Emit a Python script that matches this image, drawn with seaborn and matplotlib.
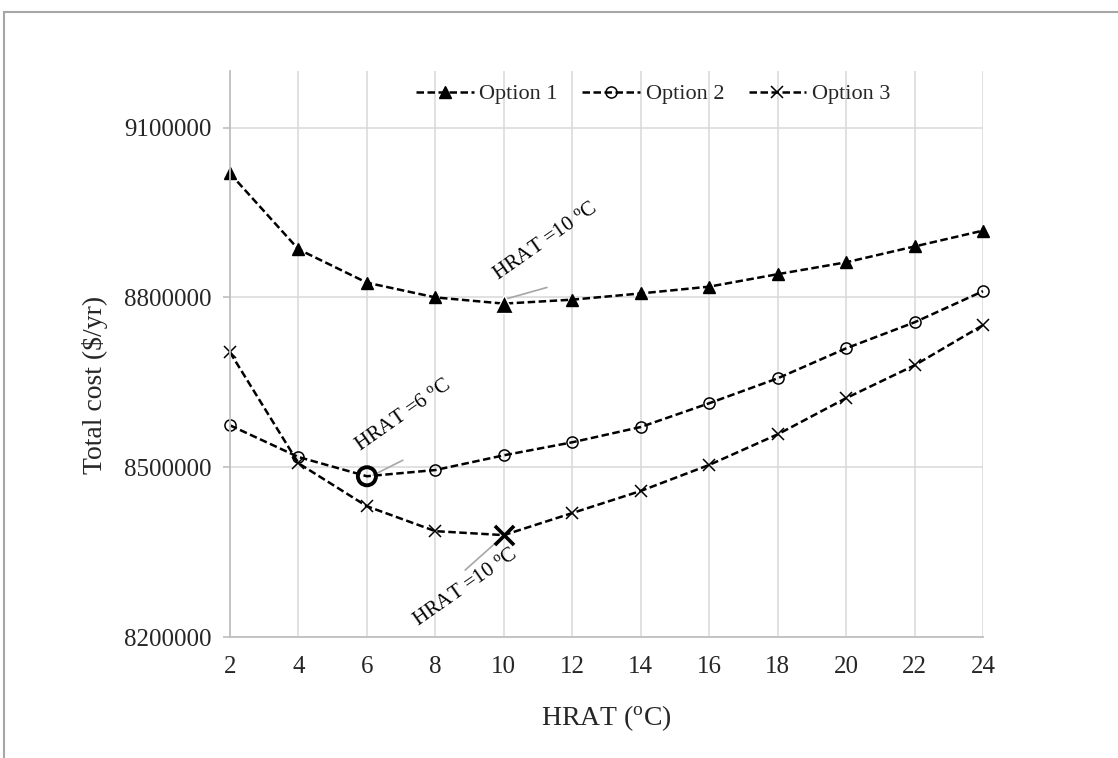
import matplotlib
matplotlib.use("Agg")
import matplotlib.pyplot as plt
from matplotlib.patches import Rectangle
import seaborn as sns
import pandas as pd

# ---- data ----
hrat = [2, 4, 6, 8, 10, 12, 14, 16, 18, 20, 22, 24]
option1 = [9019000, 8885000, 8826000, 8800000, 8789000, 8796000,
           8807000, 8819000, 8841000, 8862000, 8890000, 8918000]
option2 = [8574000, 8518000, 8484000, 8495000, 8521000, 8544000,
           8571000, 8613000, 8657000, 8710000, 8756000, 8811000]
option3 = [8703000, 8507000, 8431000, 8387000, 8380000, 8419000,
           8458000, 8504000, 8558000, 8622000, 8680000, 8751000]
series_names = ["Option 1", "Option 2", "Option 3"]
optimum_hrat = [10, 6, 10]
annotation_texts = ["HRAT =10 $^{\\mathrm{o}}$C", "HRAT =6 $^{\\mathrm{o}}$C", "HRAT =10 $^{\\mathrm{o}}$C"]
y_ticks = [8200000, 8500000, 8800000, 9100000]

sns.set_style("white")
plt.rcParams["font.family"] = ["Liberation Serif", "DejaVu Serif"]
plt.rcParams["mathtext.fontset"] = "custom"
plt.rcParams["mathtext.rm"] = "Liberation Serif"
plt.rcParams["mathtext.it"] = "Liberation Serif:italic"

fig = plt.figure(figsize=(11.18, 7.58), dpi=100)
ax = fig.add_axes([230 / 1118, 1 - 637 / 758, 753 / 1118, 566 / 758])

df = pd.DataFrame({"HRAT": hrat, "Option 1": option1,
                   "Option 2": option2, "Option 3": option3})

styles = {
    "Option 1": dict(marker="^", markersize=9, markerfacecolor="black",
                     markeredgecolor="black", markeredgewidth=1),
    "Option 2": dict(marker="o", markersize=8, markerfacecolor="none",
                     markeredgecolor="black", markeredgewidth=1.1),
    "Option 3": dict(marker="x", markersize=8, markeredgecolor="black",
                     markeredgewidth=1.1),
}
big = {
    "Option 1": dict(marker="^", s=170, color="black", linewidth=1),
    "Option 2": dict(marker="o", s=170, facecolor="none", edgecolor="black", linewidth=2.8),
    "Option 3": dict(marker="x", s=190, color="black", linewidth=2.6),
}

for name, xopt in zip(series_names, optimum_hrat):
    keep = [i for i, h in enumerate(hrat) if h != xopt]
    sns.lineplot(data=df, x="HRAT", y=name, ax=ax, color="black",
                 linestyle=(0, (3, 1.4)), linewidth=1.8, label=name,
                 markevery=keep, clip_on=False, **styles[name])
    sel = df[df["HRAT"] == xopt]
    sns.scatterplot(x=sel["HRAT"], y=sel[name], ax=ax, legend=False,
                    zorder=5, clip_on=False, **big[name])

# annotations (text centre, leader start, leader end)
ann_pos = [((11.23, 8899000), (11.26, 8817600), (10.12, 8798200)),
           ((7.05, 8592000), (7.05, 8512300), (6.18, 8485900)),
           ((8.89, 8288000), (8.87, 8318200), (9.95, 8376500))]
for txt, (tpos, l0, l1) in zip(annotation_texts, ann_pos):
    ax.annotate("", xy=l1, xytext=l0,
                arrowprops=dict(arrowstyle="-", color="#a6a6a6", lw=1.2,
                                shrinkA=0, shrinkB=0))
    ax.text(tpos[0], tpos[1], txt, rotation=35, ha="center", va="center",
            rotation_mode="anchor", fontsize=15, color="black")

ax.set_xlim(2, 24)
ax.set_ylim(8200000, 9200000)
ax.set_xticks(hrat)
ax.set_xticklabels([str(v) for v in hrat])
ax.set_yticks(y_ticks)
ax.set_yticklabels([str(v) for v in y_ticks])
ax.grid(True, color="#d9d9d9", linewidth=1.1)
ax.set_axisbelow(True)
for s in ["top", "right"]:
    ax.spines[s].set_visible(False)
for s in ["left", "bottom"]:
    ax.spines[s].set_color("#bfbfbf")
    ax.spines[s].set_linewidth(1.3)
ax.tick_params(axis="y", labelsize=18, length=5, width=1.2, color="#bfbfbf",
               pad=8, left=True)
ax.tick_params(axis="x", labelsize=18, length=0, pad=14)

ax.set_xlabel("HRAT ($^{\\mathrm{o}}$C)", fontsize=20)
ax.set_ylabel("Total cost ($/yr)", fontsize=20)
ax.xaxis.set_label_coords(0.5, (637 - 718) / 566)
ax.xaxis.label.set_verticalalignment("center")
ax.yaxis.set_label_coords((95 - 230) / 753, (637 - 385) / 566)
ax.yaxis.label.set_verticalalignment("center")

leg = ax.legend(loc="center", bbox_to_anchor=(0.562, 0.959), ncol=3,
                frameon=False, fontsize=16, handlelength=2.6,
                handletextpad=0.25, columnspacing=1.1)

fig.patches.append(Rectangle((4 / 1118, -0.1), 1.2, 1 - 12 / 758 + 0.1,
                             transform=fig.transFigure, fill=False,
                             edgecolor="#a6a6a6", linewidth=1.5))

fig.savefig("out.png", dpi=100)
